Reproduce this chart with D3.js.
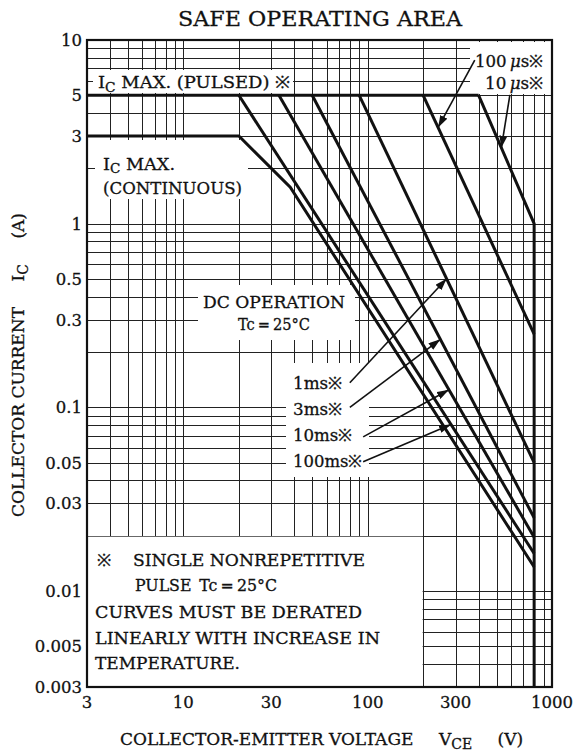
<!DOCTYPE html>
<html><head><meta charset="utf-8">
<script src="https://cdn.jsdelivr.net/npm/d3@7"></script>
<style>
html,body{margin:0;padding:0;background:#fff;}
svg text{font-family:"DejaVu Serif",serif;fill:#111;stroke:#111;stroke-width:0.3px;}
</style></head><body>
<svg id="c" width="573" height="753"></svg>
<script>
// ---------- data ----------
const xTicks = [3, 10, 30, 100, 300, 1000];
const xTickLabels = ["3", "10", "30", "100", "300", "1000"];
const yTicks = [10, 5, 3, 1, 0.5, 0.3, 0.1, 0.05, 0.03, 0.01, 0.005, 0.003];
const yTickLabels = ["10", "5", "3", "1", "0.5", "0.3", "0.1", "0.05", "0.03", "0.01", "0.005", "0.003"];
const pulsedMax = [[3, 5], [400, 5]];
const dcCurve = [[3, 3], [20, 3], [38, 1.58], [800, 0.0135]];
const ms100 = [[20, 5], [800, 0.016]];
const ms10 = [[33, 5], [800, 0.0196]];
const ms3 = [[50, 5], [800, 0.025]];
const ms1 = [[90, 5], [800, 0.05]];
const us100 = [[200, 5], [800, 0.25]];
const us10 = [[400, 5], [800, 1], [800, 0.003]];
const msLabels = ["1ms", "3ms", "10ms", "100ms"];
const msTails = [[80, 0.136], [80, 0.1], [94.5, 0.069], [94.5, 0.0506]];
const msTipV = [268, 248, 276, 283];
const usLabels = ["100", "10"];
const usTails = [[381, 7.78], [591, 5.02]];
const usTipV = [241, 531];

// ---------- scales ----------
const x = d3.scaleLog().domain([3, 1000]).range([87, 552]);
const y = d3.scaleLog().domain([0.003, 10]).range([687, 40]);
const svg = d3.select("#c");

svg.append("defs").append("marker")
  .attr("id", "ah").attr("markerUnits", "userSpaceOnUse")
  .attr("markerWidth", 12).attr("markerHeight", 8)
  .attr("refX", 12).attr("refY", 4).attr("orient", "auto")
  .append("path").attr("d", "M0,0 L12,4 L0,8 Z").attr("fill", "#111");

// ---------- grid ----------
const vVals = [];
for (let v = 4; v <= 10; v++) vVals.push(v);
for (let v = 20; v <= 100; v += 10) vVals.push(v);
for (let v = 200; v <= 900; v += 100) vVals.push(v);
const hVals = [];
[0.001, 0.01, 0.1, 1].forEach(d => { for (let k = 1; k <= 9; k++) { const v = +(d * k).toPrecision(3); if (v > 0.003 && v < 10) hVals.push(v); } });

const grid = svg.append("g").attr("stroke", "#222").attr("stroke-width", 1);
grid.selectAll("line.v").data(vVals).join("line")
  .attr("x1", d => Math.round(x(d)) + 0.5).attr("x2", d => Math.round(x(d)) + 0.5)
  .attr("y1", y(10)).attr("y2", y(0.003));
grid.selectAll("line.h").data(hVals).join("line")
  .attr("y1", d => Math.round(y(d)) + 0.5).attr("y2", d => Math.round(y(d)) + 0.5)
  .attr("x1", x(3)).attr("x2", x(1000));

// white label backgrounds interrupting grid
const boxes = [
  [93, 70, 200, 23],
  [95, 140, 153, 59],
  [198, 285, 157, 55],
  [286, 363, 83, 114],
  [470, 42, 81, 52],
  [x(3), y(0.02) + 1, x(200) - x(3) - 0.5, y(0.003) - y(0.02) - 1]
];
svg.append("g").selectAll("rect").data(boxes).join("rect")
  .attr("x", d => d[0]).attr("y", d => d[1]).attr("width", d => d[2]).attr("height", d => d[3])
  .attr("fill", "#fff");

// ---------- curves ----------
const line = d3.line().x(d => x(d[0])).y(d => y(d[1]));
const curves = [pulsedMax, dcCurve, ms100, ms10, ms3, ms1, us100, us10];
svg.append("g").selectAll("path").data(curves).join("path")
  .attr("d", line).attr("fill", "none").attr("stroke", "#111")
  .attr("stroke-width", 3).attr("stroke-linejoin", "miter");

function onCurve(c, v) {
  const a = c[0], b = c[1];
  const t = Math.log(v / a[0]) / Math.log(b[0] / a[0]);
  return [v, Math.exp(Math.log(a[1]) + t * (Math.log(b[1]) - Math.log(a[1])))];
}

// ---------- arrows ----------
const arrows = svg.append("g").attr("stroke", "#111").attr("stroke-width", 1.6);
const msCurves = [ms1, ms3, ms10, ms100];
msTails.forEach((t, i) => {
  const tip = onCurve(msCurves[i], msTipV[i]);
  arrows.append("line").attr("x1", x(t[0])).attr("y1", y(t[1]))
    .attr("x2", x(tip[0])).attr("y2", y(tip[1])).attr("marker-end", "url(#ah)");
});
const usCurves = [us100, us10];
usTails.forEach((t, i) => {
  const tip = onCurve(usCurves[i], usTipV[i]);
  arrows.append("line").attr("x1", x(t[0])).attr("y1", y(t[1]))
    .attr("x2", x(tip[0])).attr("y2", y(tip[1])).attr("marker-end", "url(#ah)");
});

// ---------- frame ----------
svg.append("rect").attr("x", x(3)).attr("y", y(10))
  .attr("width", x(1000) - x(3)).attr("height", y(0.003) - y(10))
  .attr("fill", "none").attr("stroke", "#111").attr("stroke-width", 2.2);

function fit(t, w) { return t.attr("textLength", w).attr("lengthAdjust", "spacingAndGlyphs"); }

// ---------- tick labels ----------
svg.append("g").selectAll("text").data(yTicks).join("text")
  .attr("x", 82).attr("y", d => y(d) + 6).attr("text-anchor", "end")
  .attr("font-size", 16.5).text((d, i) => yTickLabels[i]);
svg.append("g").selectAll("text").data(xTicks).join("text")
  .attr("x", d => x(d)).attr("y", 708).attr("text-anchor", "middle")
  .attr("font-size", 16.5).text((d, i) => xTickLabels[i]);

// ---------- titles ----------
fit(svg.append("text").attr("x", 178).attr("y", 26)
  .attr("font-size", 21).text("SAFE OPERATING AREA"), 284);

const xt = svg.append("text").attr("x", 120).attr("y", 745).attr("font-size", 17);
xt.append("tspan").text("COLLECTOR-EMITTER VOLTAGE\u2003\u2002V");
xt.append("tspan").attr("font-size", 14).attr("dy", 4).text("CE");
xt.append("tspan").attr("dy", -4).text("\u2003\u2002(V)");

const yt = svg.append("text").attr("transform", "translate(24,365) rotate(-90)")
  .attr("text-anchor", "middle").attr("font-size", 17);
yt.append("tspan").text("COLLECTOR CURRENT\u2003\u2002I");
yt.append("tspan").attr("font-size", 14).attr("dy", 4).text("C");
yt.append("tspan").attr("dy", -4).text("\u2003\u2002(A)");

// ---------- in-chart labels ----------
function subLabel(xp, yp, main, sub, rest, fs, sdy) {
  const t = svg.append("text").attr("x", xp).attr("y", yp).attr("font-size", fs);
  t.append("tspan").text(main);
  t.append("tspan").attr("font-size", fs - 4).attr("dy", sdy).text(sub);
  t.append("tspan").attr("dy", -sdy).text(rest);
  return t;
}
fit(subLabel(98, 88, "I", "C", " MAX. (PULSED) \u203B", 17, 4), 192);
fit(subLabel(103, 170, "I", "C", " MAX.", 17, 3), 72);
fit(svg.append("text").attr("x", 103).attr("y", 194).attr("font-size", 17).text("(CONTINUOUS)"), 139);
fit(svg.append("text").attr("x", 203).attr("y", 308).attr("font-size", 17).text("DC OPERATION"), 142);
fit(svg.append("text").attr("x", 238).attr("y", 330).attr("font-size", 17).text("Tc\u2009=\u200925\u00B0C"), 72);

const msBase = [389, 415, 441, 467];
const msW = [49, 49, 59, 69];
msLabels.forEach((l, i) => {
  fit(svg.append("text").attr("x", 293).attr("y", msBase[i]).attr("font-size", 17).text(l + "\u203B"), msW[i]);
});
const usBase = [67, 89];
const usX = [475, 485];
usLabels.forEach((l, i) => {
  const t = svg.append("text").attr("x", usX[i]).attr("y", usBase[i]).attr("font-size", 17);
  t.append("tspan").text(l + "\u2009");
  t.append("tspan").attr("font-style", "italic").text("\u03BC");
  t.append("tspan").text("s\u203B");
  fit(t, 543 - usX[i]);
});

// ---------- notes ----------
svg.append("text").attr("x", 97).attr("y", 566).attr("font-size", 17).text("\u203B");
fit(svg.append("text").attr("x", 133).attr("y", 566).attr("font-size", 17).text("SINGLE NONREPETITIVE"), 232);
fit(svg.append("text").attr("x", 135).attr("y", 591).attr("font-size", 16).text("PULSE\u2002Tc\u2009=\u200925\u00B0C"), 142);
fit(svg.append("text").attr("x", 95).attr("y", 618).attr("font-size", 17).text("CURVES MUST BE DERATED"), 267);
fit(svg.append("text").attr("x", 95).attr("y", 644).attr("font-size", 17).text("LINEARLY WITH INCREASE IN"), 285);
fit(svg.append("text").attr("x", 95).attr("y", 669).attr("font-size", 17).text("TEMPERATURE."), 145);
</script>
</body></html>
